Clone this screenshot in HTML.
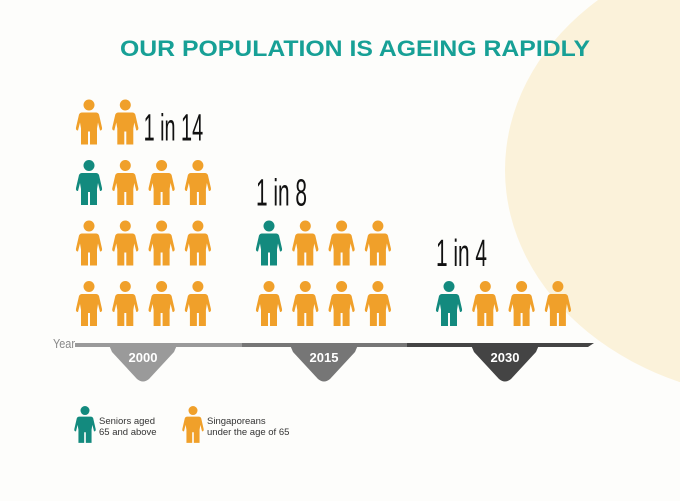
<!DOCTYPE html>
<html><head><meta charset="utf-8"><style>
html,body{margin:0;padding:0;background:#fff;}
svg{display:block;font-family:"Liberation Sans",sans-serif;}
</style></head><body>
<svg id="chart" width="680" height="501" viewBox="0 0 680 501">
<rect width="680" height="501" fill="#fdfdfb"/>
<ellipse cx="790" cy="170" rx="285" ry="230" fill="#fbf2da"/>
<text x="120" y="56" font-size="22" font-weight="bold" fill="#17a096" textLength="470" lengthAdjust="spacingAndGlyphs">OUR POPULATION IS AGEING RAPIDLY</text>
<g id="marks"></g>
<text x="53" y="348" font-size="13" fill="#888" textLength="22" lengthAdjust="spacingAndGlyphs">Year</text>
<g id="axis"></g>
<g id="legend"></g>
</svg>
<script>
const years = ["2000", "2015", "2030"];
const totalPeople = [14, 8, 4];
const seniorPeople = [1, 1, 1];
const ratioLabels = ["1 in 14", "1 in 8", "1 in 4"];
const segmentColors = ["#9a9a9a", "#767676", "#444444"];

const NS = "http://www.w3.org/2000/svg";
const ORANGE = "#f0a02a", TEAL = "#138a7e";
function mk(tag, attrs, parent) { const e = document.createElementNS(NS, tag); for (const k in attrs) e.setAttribute(k, attrs[k]); parent.appendChild(e); return e; }

const groupX = i => 89 + i * 180;
const colX = c => c * 36.3;
const rowY = r => 281 - r * 60.5;

function person(parent, cx, top, color, s) {
  s = s || 1;
  const g = mk("g", {transform: `translate(${cx},${top}) scale(${s})`}, parent);
  mk("circle", {cx: 0, cy: 5.5, r: 5.5, fill: color}, g);
  mk("path", {d: "M-7,13 L7,13 Q9,13 10,15 L13,28 Q13.5,31 11,31 L9,23 L8,29 L8,45 L1,45 L1,32 L-1,32 L-1,45 L-8,45 L-8,29 L-9,23 L-11,31 Q-13.5,31 -13,28 L-10,15 Q-9,13 -7,13 Z", fill: color}, g);
  return g;
}

const marks = document.getElementById("marks");
years.forEach((y, gi) => {
  const g = mk("g", {}, marks);
  
  
  const n = totalPeople[gi];
  const seniors = seniorPeople[gi];
  const rows = Math.ceil(n / 4);
  const topRowCount = n - (rows - 1) * 4;
  const fullTopRow = topRowCount < 4 ? rows - 2 : rows - 1;
  const seniorRow = Math.max(0, fullTopRow);
  let sCount = 0;
  for (let r = 0; r < rows; r++) for (let c = 0; c < 4; c++) {
    const idx = r * 4 + c; if (idx >= n) continue;
    const isSenior = sCount < seniors && r === seniorRow && c === sCount;
    if (isSenior) sCount++;
    const fig = person(g, groupX(gi) + colX(c), rowY(r), isSenior ? TEAL : ORANGE);
    
    
  }
  let lx, ly;
  if (topRowCount < 4 && rows > 1) { lx = groupX(gi) + colX(topRowCount) - 18; ly = rowY(rows - 1) + 41; }
  else { lx = groupX(gi) - 13; ly = rowY(rows - 1) - 15; }
  const t = mk("text", {x: lx, y: ly, "font-size": 38, fill: "#111", "textLength": ratioLabels[gi].length * 8.5, "lengthAdjust": "spacingAndGlyphs"}, g);
  
  
  t.textContent = ratioLabels[gi];
});

const axis = document.getElementById("axis");
const segX = [75, 242, 407, 594];
years.forEach((y, i) => {
  const x0 = segX[i], x1 = segX[i + 1];
  const seg = mk("path", {d: i === years.length - 1 ? `M${x0},343 L${x1},343 L${x1-6},347 L${x0},347 Z` : `M${x0},343 L${x1},343 L${x1},347 L${x0},347 Z`, fill: segmentColors[i]}, axis);
  
  
  const cx = 143 + i * 181;
  const tab = mk("path", {d: `M${cx-34},345 L${cx+34},345 L${cx+31},352 L${cx+6},379 Q${cx},384 ${cx-6},379 L${cx-31},352 Z`, fill: segmentColors[i]}, axis);
  
  
  const tt = mk("text", {x: cx, y: 362, "text-anchor": "middle", "font-size": 13, "font-weight": "bold", fill: "#fff"}, axis);
  
  
  tt.textContent = y;
});

const legend = document.getElementById("legend");
const l1 = person(legend, 85, 406, TEAL, 0.82);


const l2 = person(legend, 193, 406, ORANGE, 0.82);


[["Seniors aged", 99, 424], ["65 and above", 99, 435], ["Singaporeans", 207, 424], ["under the age of 65", 207, 435]].forEach((d, i) => {
  const t = mk("text", {x: d[1], y: d[2], "font-size": 9.5, fill: "#333"}, legend);
  
  
  t.textContent = d[0];
});
</script>
</body></html>
